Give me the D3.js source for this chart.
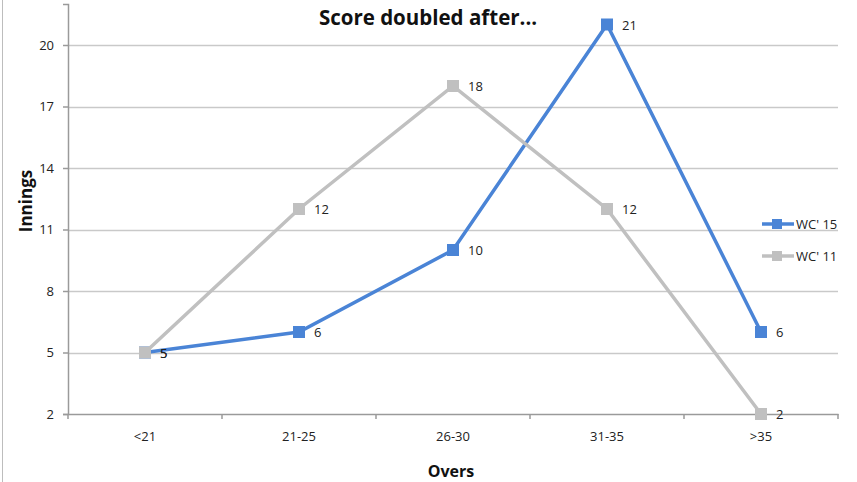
<!DOCTYPE html>
<html lang="en">
<head>
    <meta charset="UTF-8">
    <script src="https://d3js.org/d3.v7.min.js"></script>
    <title>Score doubled after...</title>
    <style>
        body { margin: 0; background: #fff; }
        text { font-family: "Open Sans", "Noto Sans", sans-serif; }
    </style>
</head>
<body>
    <script>
        var categories = ['<21', '21-25', '26-30', '31-35', '>35'];
        var wc15 = [5, 6, 10, 21, 6];
        var wc11 = [5, 12, 18, 12, 2];
        var yTicks = [2, 5, 8, 11, 14, 17, 20];
        var seriesNames = ["WC' 15", "WC' 11"];

        var width = 857, height = 482;
        var plotLeft = 68, plotRight = 838, plotTop = 4, plotBottom = 414;

        var svg = d3.select('body').append('svg')
            .attr('width', width)
            .attr('height', height);

        // chart frame edge on the left
        svg.append('line')
            .attr('x1', 2.5).attr('x2', 2.5)
            .attr('y1', 0).attr('y2', height)
            .attr('stroke', '#bdbdbd');

        var x = d3.scaleBand().domain(categories).range([plotLeft, plotRight]);
        var y = d3.scaleLinear().domain([2, 22]).range([plotBottom, plotTop]);

        // gridlines
        svg.append('g')
            .selectAll('line')
            .data(yTicks.slice(1))
            .enter().append('line')
            .attr('x1', plotLeft).attr('x2', plotRight)
            .attr('y1', function(d){ return Math.round(y(d)) + 0.5; })
            .attr('y2', function(d){ return Math.round(y(d)) + 0.5; })
            .attr('stroke', '#c9c9c9')
            .attr('stroke-width', 1.5);

        var xAxis = d3.axisBottom(x).tickSize(0).tickPadding(18);
        var yAxis = d3.axisLeft(y).tickValues(yTicks).tickSize(5).tickPadding(9);

        var gx = svg.append('g')
            .attr('transform', 'translate(0,' + plotBottom + ')')
            .call(xAxis);
        gx.select('.domain').attr('stroke', '#9a9a9a').attr('stroke-width', 1.5);
        // tick marks between categories
        gx.selectAll('.sep')
            .data(d3.range(categories.length + 1))
            .enter().append('line')
            .attr('class', 'sep')
            .attr('x1', function(i){ return plotLeft + i * x.bandwidth(); })
            .attr('x2', function(i){ return plotLeft + i * x.bandwidth(); })
            .attr('y1', 0).attr('y2', 5)
            .attr('stroke', '#9a9a9a').attr('stroke-width', 1.5);
        gx.selectAll('.tick text')
            .attr('font-size', 13).attr('fill', '#222')
            .style('font-family', '"Open Sans", sans-serif');

        var gy = svg.append('g')
            .attr('transform', 'translate(' + plotLeft + ',0)')
            .call(yAxis);
        gy.select('.domain').attr('stroke', '#9a9a9a').attr('stroke-width', 1.5);
        gy.selectAll('.tick line').attr('stroke', '#9a9a9a').attr('stroke-width', 1.5);
        gy.selectAll('.tick text')
            .attr('font-size', 13).attr('fill', '#222')
            .style('font-family', '"Open Sans", sans-serif');

        var colors = ['#4a84d6', '#c0c0c0'];
        var allSeries = [wc15, wc11];

        var line = d3.line()
            .x(function(d, i){ return x(categories[i]) + x.bandwidth() / 2; })
            .y(function(d){ return y(d); });

        allSeries.forEach(function(vals, s) {
            var g = svg.append('g');
            g.append('path')
                .datum(vals)
                .attr('d', line)
                .attr('fill', 'none')
                .attr('stroke', colors[s])
                .attr('stroke-width', 3.5);
            g.selectAll('rect')
                .data(vals)
                .enter().append('rect')
                .attr('x', function(d, i){ return x(categories[i]) + x.bandwidth() / 2 - 6; })
                .attr('y', function(d){ return y(d) - 6; })
                .attr('width', 12).attr('height', 12)
                .attr('fill', colors[s]);
            g.selectAll('text')
                .data(vals)
                .enter().append('text')
                .attr('x', function(d, i){ return x(categories[i]) + x.bandwidth() / 2 + 15; })
                .attr('y', function(d){ return y(d) + 5; })
                .attr('font-size', 13).attr('fill', '#222')
                .text(function(d){ return d; });
        });

        // title
        svg.append('text')
            .attr('x', 428).attr('y', 25)
            .attr('text-anchor', 'middle')
            .attr('font-size', 20.5).attr('font-weight', 'bold')
            .attr('fill', '#111')
            .text('Score doubled after...');

        // axis titles
        svg.append('text')
            .attr('transform', 'translate(32,' + 201 + ') rotate(-90)')
            .attr('text-anchor', 'middle')
            .attr('font-size', 17).attr('font-weight', 'bold')
            .attr('fill', '#111')
            .text('Innings');

        svg.append('text')
            .attr('x', x('26-30') + x.bandwidth() / 2 - 2).attr('y', 477)
            .attr('text-anchor', 'middle')
            .attr('font-size', 16).attr('font-weight', 'bold')
            .attr('fill', '#111')
            .text('Overs');

        // legend
        var legend = svg.append('g').attr('transform', 'translate(762,224)');
        seriesNames.forEach(function(name, s) {
            var lg = legend.append('g').attr('transform', 'translate(0,' + s * 32 + ')');
            lg.append('line')
                .attr('x1', 0).attr('x2', 32)
                .attr('stroke', colors[s]).attr('stroke-width', 3.5);
            lg.append('rect')
                .attr('x', 10).attr('y', -5).attr('width', 10).attr('height', 10)
                .attr('fill', colors[s]);
            lg.append('text')
                .attr('x', 34).attr('y', 5)
                .attr('font-size', 13).attr('fill', '#222')
                .text(name);
        });
    </script>
</body>
</html>
